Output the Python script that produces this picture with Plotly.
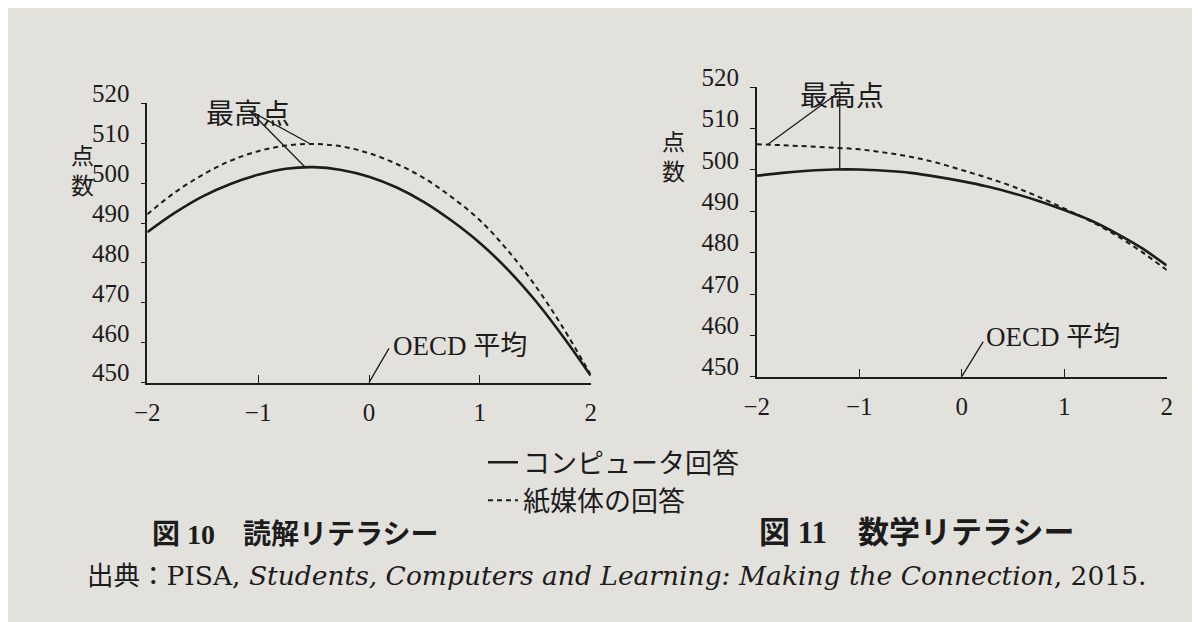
import plotly.graph_objects as go

# score index (OECD average = 0)
x_index = [-2.0, -1.75, -1.5, -1.25, -1.0, -0.75, -0.5, -0.25, 0.0,
           0.25, 0.5, 0.75, 1.0, 1.25, 1.5, 1.75, 2.0]

# 図10 読解リテラシー
reading_computer = [487.7, 492.6, 496.7, 499.8, 502.1, 503.6, 504.0, 503.3, 501.6,
                    498.9, 495.2, 490.5, 485.0, 478.4, 470.6, 461.6, 451.8]
reading_paper = [492.2, 497.7, 502.1, 505.6, 508.0, 509.4, 509.8, 509.2, 507.5,
                 504.8, 501.2, 496.4, 490.7, 483.2, 474.3, 463.8, 452.0]

# 図11 数学リテラシー
math_computer = [498.6, 499.3, 499.8, 500.1, 500.1, 499.8, 499.3, 498.4, 497.3,
                 496.0, 494.4, 492.5, 490.3, 487.9, 484.8, 481.2, 476.9]
math_paper = [506.2, 506.0, 505.7, 505.4, 505.0, 504.2, 503.2, 501.8, 500.0,
              498.1, 496.0, 493.5, 490.7, 487.7, 484.3, 480.3, 475.8]

series_names = ['コンピュータ回答', '紙媒体の回答']
y_ticks = [450, 460, 470, 480, 490, 500, 510, 520]
x_ticks = [-2, -1, 0, 1, 2]

W, H = 1200, 622
OFF = 8  # page body margin the figure is drawn with

INK = '#1c1c1c'
BG = '#e3e1dc'
SERIF = 'Liberation Serif, Noto Sans CJK JP'
GOTHIC = 'Noto Sans CJK JP'


def px_x(p):
    return (p - OFF) / W


def px_y(p):
    return (H - (p - OFF)) / H


fig = go.Figure()

panels = [
    ('x', 'y', reading_computer, reading_paper, True),
    ('x2', 'y2', math_computer, math_paper, False),
]
for xa, ya, comp, paper, show in panels:
    fig.add_trace(go.Scatter(
        x=x_index, y=comp, name=series_names[0], mode='lines',
        line=dict(color=INK, width=2.6, shape='spline', smoothing=1.0),
        xaxis=xa, yaxis=ya, showlegend=show, legendgroup='comp',
    ))
    fig.add_trace(go.Scatter(
        x=x_index, y=paper, name=series_names[1], mode='lines',
        line=dict(color=INK, width=2, dash='5px,4px', shape='spline', smoothing=1.0),
        xaxis=xa, yaxis=ya, showlegend=show, legendgroup='paper',
    ))

axis_common = dict(
    showgrid=False, zeroline=False, showline=True, linecolor=INK, linewidth=1.6,
    tickcolor=INK, tickwidth=1.4, tickfont=dict(family=SERIF, size=25, color=INK),
    automargin=False,
)
yaxis_common = dict(axis_common, range=[450, 520], tickvals=y_ticks, ticks='outside',
                    ticklen=5, ticklabelstandoff=6, ticklabelshift=-10)
xaxis_common = dict(axis_common, range=[-2, 2], tickvals=x_ticks, ticks='inside',
                    ticklen=8, ticklabelstandoff=6)

fig.update_layout(
    width=W, height=H,
    margin=dict(l=0, r=0, t=0, b=0),
    paper_bgcolor=BG, plot_bgcolor=BG,
    font=dict(family=SERIF, color=INK),
    xaxis=dict(xaxis_common, domain=[px_x(147.3), px_x(590.7)], anchor='y'),
    yaxis=dict(yaxis_common, domain=[px_y(382.7), px_y(103.3)], anchor='x'),
    xaxis2=dict(xaxis_common, domain=[px_x(756.7), px_x(1166.7)], anchor='y2'),
    yaxis2=dict(yaxis_common, domain=[px_y(376.7), px_y(87.3)], anchor='x2'),
    legend=dict(x=px_x(483), y=px_y(481.7), xanchor='left', yanchor='middle',
                bgcolor='rgba(0,0,0,0)', tracegroupgap=0,
                font=dict(family=GOTHIC, size=27, color=INK)),
)

# leader lines for 最高点 and OECD 平均
lines = [
    ('x', 'y', -1.08, 518.2, -0.54, 510.0),
    ('x', 'y', -1.08, 518.2, -0.58, 504.1),
    ('x2', 'y2', -1.19, 518.9, -1.89, 506.2),
    ('x2', 'y2', -1.19, 518.9, -1.19, 500.1),
    ('x', 'y', 0.0, 450.0, 0.18, 458.6),
    ('x2', 'y2', 0.0, 450.0, 0.21, 458.5),
]
for xr, yr, x0, y0, x1, y1 in lines:
    fig.add_shape(type='line', xref=xr, yref=yr, x0=x0, y0=y0, x1=x1, y1=y1,
                  line=dict(color=INK, width=1.3))

fig.add_annotation(text='最高点', xref='x', yref='paper', x=-1.09, y=px_y(90),
                   showarrow=False, font=dict(family=GOTHIC, size=28, color=INK))
fig.add_annotation(text='最高点', xref='x2', yref='paper', x=-1.17, y=px_y(72),
                   showarrow=False, font=dict(family=GOTHIC, size=28, color=INK))
fig.add_annotation(text='OECD 平均', xref='x', yref='y', x=0.2, y=459.2,
                   xanchor='left', showarrow=False, font=dict(family=SERIF, size=27, color=INK))
fig.add_annotation(text='OECD 平均', xref='x2', yref='y2', x=0.215, y=459.6,
                   xanchor='left', showarrow=False, font=dict(family=SERIF, size=27, color=INK))

# 点数 axis labels
fig.add_annotation(text='点<br>数', xref='paper', yref='paper', x=px_x(69), y=px_y(134.5),
                   showarrow=False, font=dict(family=GOTHIC, size=23, color=INK))
fig.add_annotation(text='点<br>数', xref='paper', yref='paper', x=px_x(673), y=px_y(120.5),
                   showarrow=False, font=dict(family=GOTHIC, size=23, color=INK))

# figure captions and source
fig.add_annotation(text='<b>図 10　読解リテラシー</b>', xref='paper', yref='paper',
                   x=px_x(150), y=px_y(552), xanchor='left', showarrow=False,
                   font=dict(family=SERIF, size=28, color=INK))
fig.add_annotation(text='<b>図 11　数学リテラシー</b>', xref='paper', yref='paper',
                   x=px_x(757), y=px_y(552), xanchor='left', showarrow=False,
                   font=dict(family=SERIF, size=31, color=INK))
fig.add_annotation(
    text='出典：PISA, <i>Students, Computers and Learning: Making the Connection</i>, 2015.',
    xref='paper', yref='paper', x=px_x(85), y=px_y(593), xanchor='left', showarrow=False,
    font=dict(family='DejaVu Serif, Noto Sans CJK JP', size=26.5, color=INK))

fig.write_html("out.html")
